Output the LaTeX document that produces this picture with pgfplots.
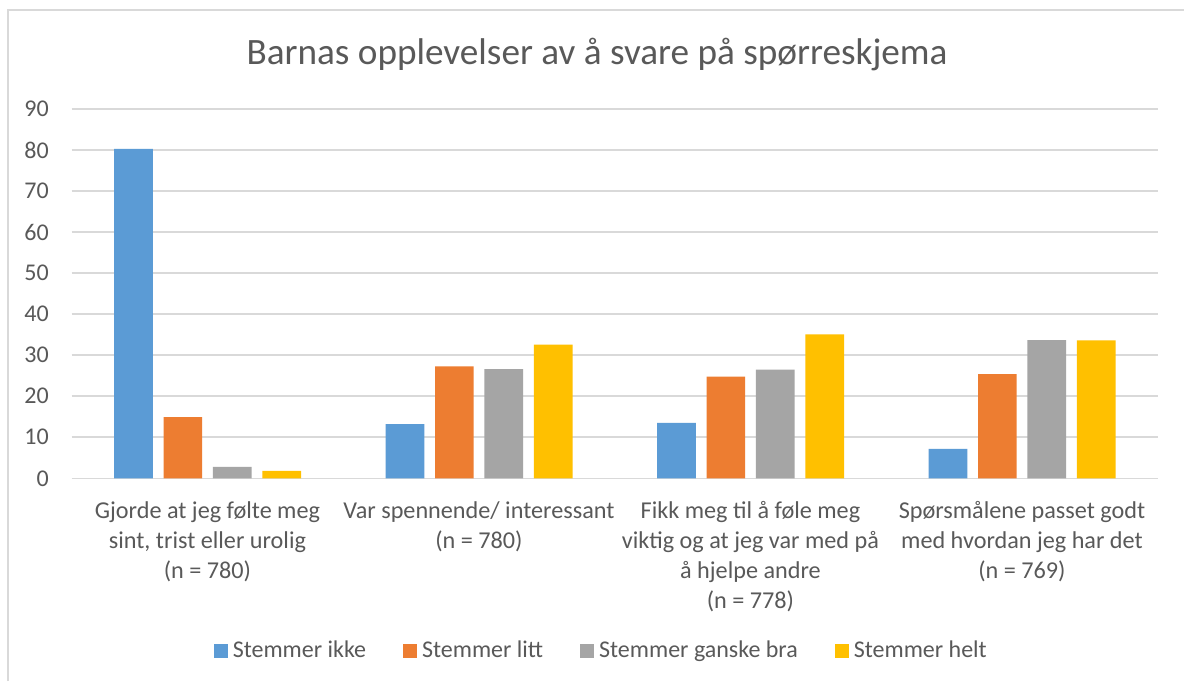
\documentclass[border=0pt]{standalone}
\usepackage{fontspec}
\setmainfont{Carlito}
\usepackage{pgfplots}
\pgfplotsset{compat=1.18}
\definecolor{cblue}{HTML}{5B9BD5}
\definecolor{corange}{HTML}{ED7D31}
\definecolor{cgray}{HTML}{A5A5A5}
\definecolor{cyellow}{HTML}{FFC000}
\definecolor{ctext}{HTML}{595959}
\definecolor{cgrid}{HTML}{D9D9D9}
\pgfplotsset{sqlegend/.style={legend image code/.code={\fill[##1,draw=none] (0pt,-3.5pt) rectangle (7pt,3.5pt);}}}
\begin{document}
\begin{tikzpicture}
\useasboundingbox (0,0) rectangle (592pt,340.5pt);
\fill[white] (0,0) rectangle (592pt,340.5pt);
\draw[cgrid, line width=1pt] (4pt,0) -- (4pt,335.5pt) -- (592pt,335.5pt);
\begin{axis}[
  at={(35.85pt,101.35pt)}, anchor=south west,
  scale only axis, width=543pt, height=184.65pt,
  xmin=-0.5, xmax=3.5, ymin=0, ymax=90,
  ytick={0,10,...,90},
  xtick={0,1,2,3},
  xticklabels={
    {Gjorde at jeg følte meg\\sint, trist eller urolig\\(n = 780)},
    {Var spennende/ interessant\\(n = 780)},
    {Fikk meg til å føle meg\\viktig og at jeg var med på\\å hjelpe andre\\(n = 778)},
    {Spørsmålene passet godt\\med hvordan jeg har det\\(n = 769)}},
  xticklabel style={align=center, inner sep=0pt, anchor=north, text=ctext,
    font=\fontsize{12.1}{14.9}\selectfont},
  xticklabel shift=11.5pt,
  yticklabel style={inner sep=0pt, anchor=east, text=ctext,
    font=\fontsize{12}{14.8}\selectfont},
  yticklabel shift=11.3pt,
  /pgf/number format/assume math mode=true,
  axis line style={draw=none},
  major tick length=0pt,
  ymajorgrids, grid style={cgrid, line width=0.8pt},
  ybar, bar width=19.35pt,
  every axis plot post/.append style={sqlegend},
  title={Barnas opplevelser av å svare på spørreskjema},
  title style={at={(0.4837,1.0893)}, anchor=base, text=ctext, inner sep=0pt,
    font=\fontsize{18.6}{22}\selectfont},
  legend columns=4,
  legend style={at={(0.489,-0.4677)}, anchor=center, draw=none, fill=none,
    text=ctext, font=\fontsize{12}{14}\selectfont,
    nodes={inner xsep=2.5pt, inner ysep=1pt},
    /tikz/every even column/.append style={column sep=16pt}},
]
\addplot[fill=cblue, draw=none, bar shift=-37pt] coordinates {(0,80.3) (1,13.2) (2,13.5) (3,7.2)};
\addplot[fill=corange, draw=none, bar shift=-12.3pt] coordinates {(0,14.9) (1,27.3) (2,24.8) (3,25.4)};
\addplot[fill=cgray, draw=none, bar shift=12.4pt] coordinates {(0,2.8) (1,26.6) (2,26.5) (3,33.7)};
\addplot[fill=cyellow, draw=none, bar shift=37.1pt] coordinates {(0,1.8) (1,32.6) (2,35.1) (3,33.6)};
\legend{Stemmer ikke, Stemmer litt, Stemmer ganske bra, Stemmer helt}
\end{axis}
\end{tikzpicture}
\end{document}
